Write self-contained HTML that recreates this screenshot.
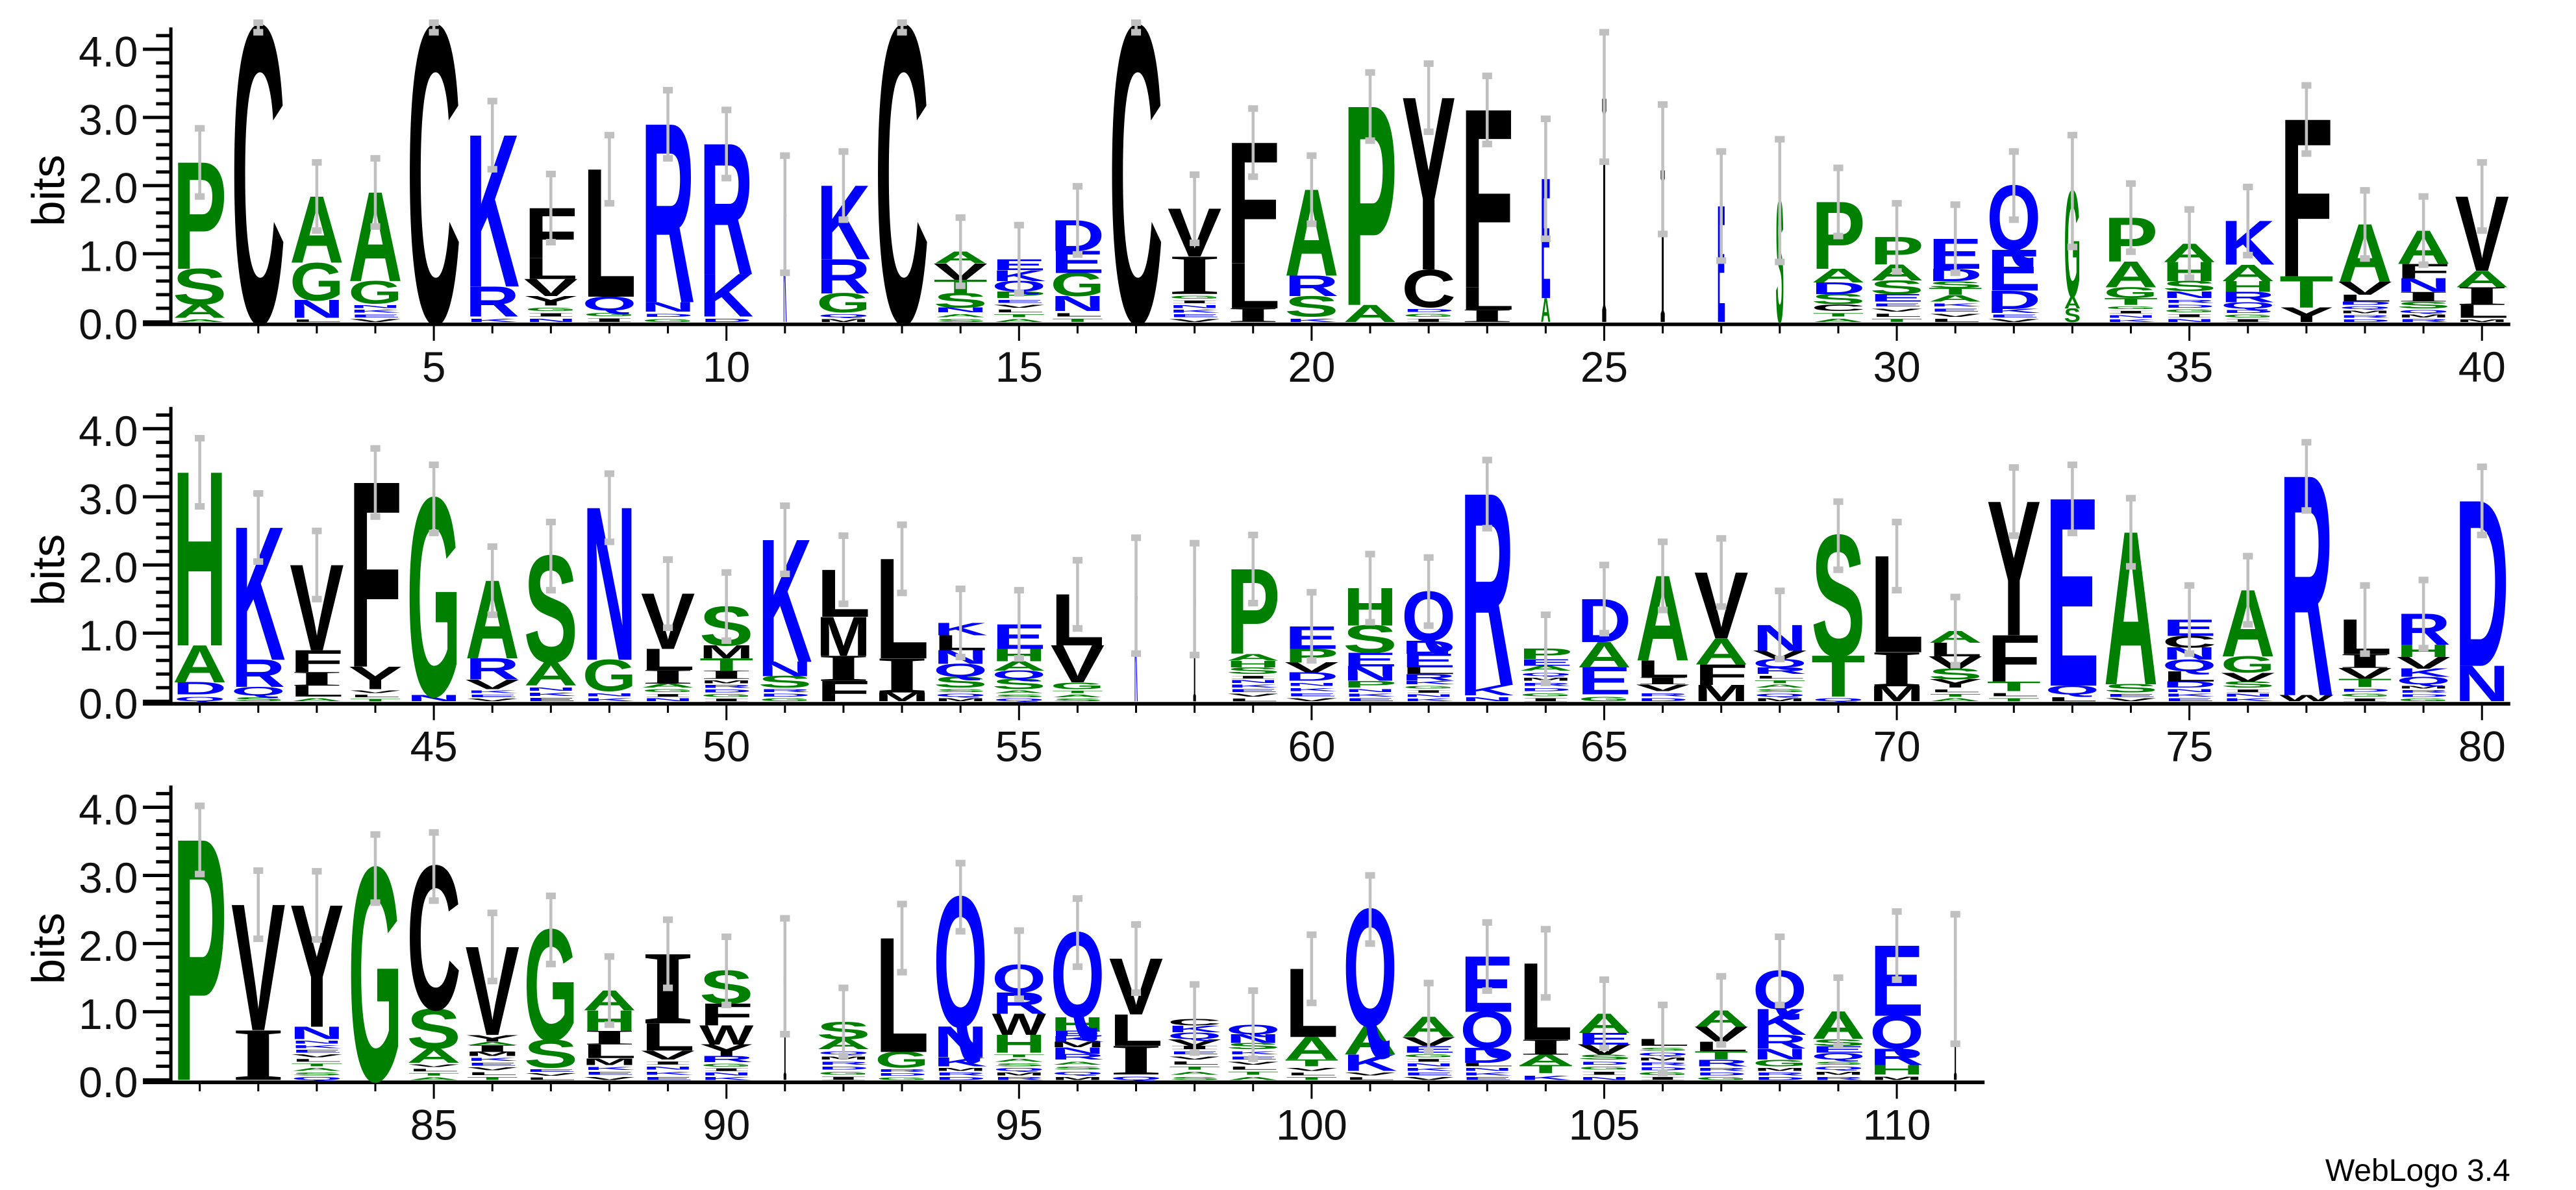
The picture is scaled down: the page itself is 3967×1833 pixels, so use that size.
<!DOCTYPE html>
<html><head><meta charset="utf-8">
<style>
html,body{margin:0;padding:0;background:#fff;}
svg{display:block;}
text{font-family:"Liberation Sans",Arial,sans-serif;}
</style></head>
<body>
<svg id="s" xmlns="http://www.w3.org/2000/svg" width="3967" height="1833" viewBox="0 0 1568 724.55" preserveAspectRatio="none">
<rect width="1568" height="724.55" fill="#fff"/>
<g id="logo"></g>
<g font-size="26" fill="#111" text-anchor="end">
<text x="84" y="206.5">0.0</text><text x="84" y="165">1.0</text><text x="84" y="123.5">2.0</text><text x="84" y="82">3.0</text><text x="84" y="40.5">4.0</text>
<text x="84" y="437.5">0.0</text><text x="84" y="396">1.0</text><text x="84" y="354.5">2.0</text><text x="84" y="313">3.0</text><text x="84" y="271.5">4.0</text>
<text x="84" y="668">0.0</text><text x="84" y="626.5">1.0</text><text x="84" y="585">2.0</text><text x="84" y="543.5">3.0</text><text x="84" y="502">4.0</text>
</g>
<g font-size="26" fill="#111" text-anchor="middle">
<text x="264.1" y="232.5">5</text><text x="442.2" y="232.5">10</text><text x="620.3" y="232.5">15</text><text x="798.4" y="232.5">20</text><text x="976.5" y="232.5">25</text><text x="1154.6" y="232.5">30</text><text x="1332.7" y="232.5">35</text><text x="1510.8" y="232.5">40</text>
<text x="264.1" y="463.5">45</text><text x="442.2" y="463.5">50</text><text x="620.3" y="463.5">55</text><text x="798.4" y="463.5">60</text><text x="976.5" y="463.5">65</text><text x="1154.6" y="463.5">70</text><text x="1332.7" y="463.5">75</text><text x="1510.8" y="463.5">80</text>
<text x="264.1" y="694">85</text><text x="442.2" y="694">90</text><text x="620.3" y="694">95</text><text x="798.4" y="694">100</text><text x="976.5" y="694">105</text><text x="1154.6" y="694">110</text>
</g>
<g font-size="28" fill="#000" text-anchor="middle">
<text transform="translate(39,116) rotate(-90)">bits</text>
<text transform="translate(39,347) rotate(-90)">bits</text>
<text transform="translate(39,577.5) rotate(-90)">bits</text>
</g>
<text x="1528" y="719" font-size="19" text-anchor="end" fill="#000">WebLogo 3.4</text>
</svg>
<script>
(function(){
var D=[
"*.06 A.2 S.52 P1.56","C4.32 e.07","*.06 N.26 G.55 A.97","*.27 G.33 A1.3","C4.32 e.07",
"*.08 R.44 K2.22","*.24 Y.14 V.25 L.31 F.73","*.17 Q.2 L1.87","*.15 N.14 R2.61","*.08 K.62 R1.91",
"w1.5 e.86 K1.58","*.14 G.28 R.5 K1.08","C4.32 e.07","*.14 N.07 S.21 T.2 V.24 A.17","*.35 P.1 Q.15 K.16 E.16",
"*.16 N.22 G.34 E.32 D.45","C4.32 e.07","*.41 I.55 V.7","I.2 L.66 F1.77","*.08 S.3 R.3 A1.26",
"A.25 P2.91","*.22 C.55 Y2.52","I.18 L.33 F2.6","w6 e.88 A.35 E1.75","w3 e.95 I3.3",
"w3 e.95 I2.24","w5 e.8 E1.7","w5 e.9 S1.78","*.16 C.1 S.15 D.17 A.2 P.98","*.3 E.11 S.2 A.23 P.4",
"*.3 A.1 T.1 S.1 D.18 E.44","*.13 K.06 D.27 E.6 Q.94","w10 e.82 S.2 A.17 G1.55","*.25 T.1 G.16 A.38 P.64","*.35 N.1 S.15 H.28 A.27",
"*.2 Q.09 R.15 H.16 A.24 K.64","Y.21 T.46 F2.3","*.25 D.05 L.1 V.19 A.84","*.2 S.1 I.14 N.2 F.21 A.49","*.06 L.19 I.26 A.24 V1.09",
"*.1 D.18 A.54 H2.54","*.09 Q.12 R.4 K1.94","*.07 L.16 I.2 F.32 V1.25","*.18 Y.33 F2.7","N.09 G2.88",
"*.18 V.14 R.31 A1.14","*.23 A.35 S1.55","*.15 G.46 N2.23","*.2 A.06 I.2 L.31 V.81","*.33 I.12 T.18 M.19 S.57",
"*.2 S.17 N.21 K1.79","F.3 I.37 M.57 L.69","M.13 I.5 L1.46","*.2 S.16 Q.19 N.2 L.22 K.18","*.18 S.15 Q.12 A.14 H.18 E.36",
"*.18 G.1 V.54 L.75","w1.5 e.85 K1.55","w1.5 e.82 I1.5","*.4 S.1 H.1 A.1 P1.24","*.3 D.12 V.15 P.2 E.33",
"*.2 P.1 N.21 E.2 S.4 H.55","*.25 K.05 R.1 L.1 E.2 D.19 Q.72","*.09 K.15 R2.8","*.45 A.07 E.1 P.15","*.1 E.4 A.37 D.63",
"*.15 V.1 I.1 L.25 A1.24","M.24 F.3 A.38 V.97","*.4 R.1 Q.12 V.12 N.38","*.07 T.6 S1.76","M.22 I.5 L1.41",
"*.2 Y.12 S.16 V.18 L.2 A.17","*.15 T.14 F.68 Y1.96","*.1 Q.13 E2.74","*.13 S.12 A2.23","*.2 D.09 L.15 Q.17 N.18 C.17 E.24",
"*.2 S.09 V.13 G.24 A.97","W.09 R3.21","*.21 T.12 V.16 I.2 L.51","*.25 Q.11 K.12 V.17 H.18 R.45","N.52 D2.42",
"P3.52","I.73 V1.84","*.6 N.18 Y1.78","G3.1","*.25 A.21 S.58 C2.09",
"*.35 M.06 I.1 A.05 Y.1 V1.29","*.18 S.4 G1.62","*.22 M.1 L.2 I.2 H.3 A.29","*.3 V.13 L.4 I1.02","*.26 R.09 Y.17 W.28 F.32 S.48",
"w1.5 e.85 I1.52","*.45 A.15 S.25","*.18 G.23 L1.67","*.2 K.13 N.45 Q1.9","*.4 H.26 W.31 R.31 Q.41",
"*.3 R.08 N.1 M.08 K.08 E.08 H.2 Q1.24","*.08 I.42 L.46 V.82","*.45 I.05 V.1 Q.1 K.1 C.1","*.45 S.09 N.13 Q.14","*.2 T.1 A.33 L1.0",
"*.13 K.24 A.42 Q1.71","*.4 E.1 V.13 A.29","*.2 L.05 D.22 Q.53 E.81","*.1 T.12 A.15 I.22 L1.12","*.3 S.07 V.15 E.17 A.28",
"*.5 L.1","*.2 R.1 T.12 L.14 V.22 A.24","*.2 G.1 N.16 R.2 K.38 Q.56","*.3 Q.1 E.1 S.1 A.4","*.08 H.14 R.24 Q.48 E1.03",
"w1.5 e.95 I1.48"
];
var NS="http://www.w3.org/2000/svg";
var g=document.getElementById("logo");
var B=41.5, DX=35.62, CAP=69;
function col(c){ if("APGSTH".indexOf(c)>=0) return "#008000"; if("KRDENQ".indexOf(c)>=0) return "#0000ff"; return "#000000"; }
function el(n,a){var e=document.createElementNS(NS,n);for(var k in a)e.setAttribute(k,a[k]);g.appendChild(e);return e;}
function letter(c,cx,yb,w,h){
  if(h<=0.002) return;
  var a={x:0,y:0,"font-size":100,"font-weight":"bold",fill:col(c),
    textLength:100,lengthAdjust:"spacingAndGlyphs",
    transform:"translate("+(cx-w/2)+","+yb+") scale("+(w/100)+","+(h/(c=="I"?66:CAP))+")"};
  if(c=="I") a["style"]='font-family:"Liberation Serif",serif';
  var t=el("text",a);
  t.textContent=c;
}
var FL="SATLVEKNIGDRMQ";
var rows=[{y0:196,s:1,n:40,end:1528},{y0:427,s:41,n:40,end:1528},{y0:657.5,s:81,n:31,end:1208}];
rows.forEach(function(r){
  var ax=r.y0+1.5;
  el("line",{x1:87,y1:ax,x2:r.end,y2:ax,stroke:"#000","stroke-width":2.2});
  el("line",{x1:104,y1:ax+1,x2:104,y2:r.y0-4.32*B,stroke:"#000","stroke-width":2});
  for(var i=0;i<=21;i++){var v=i*0.2,y=r.y0-v*B;var maj=(i%5==0);
    el("line",{x1:maj?87:95,y1:y,x2:104,y2:y,stroke:"#000","stroke-width":2});}
  for(var j=0;j<r.n;j++){
    var p=r.s+j,cx=121.6+j*DX,maj=(p%5==0);
    el("line",{x1:cx,y1:ax,x2:cx,y2:ax+(maj?10:5.5),stroke:"#000","stroke-width":1.2});
    var spec=D[p-1]; if(!spec) continue;
    var toks=spec.split(" "),w=33,e=0.5,y=r.y0,tot=0,fi=p%FL.length;
    toks.forEach(function(t){
      var c=t[0],v=parseFloat(t.slice(1));
      if(c=="w"){w=Math.max(v,2);return;} if(c=="e"){e=v;return;}
      if(c=="*"){
        var n=Math.max(1,Math.round(v/0.07)),hh=v*B/n;
        for(var k=0;k<n;k++){var L=FL[(fi++)%FL.length];letter(L,cx,y,w*0.95,hh*0.6);y-=hh;}
        tot+=v; return;
      }
      letter(c,cx,y,w,v*B); y-=v*B; tot+=v;
    });
    var yt=r.y0-(tot+e)*B, ybt=r.y0-(tot-e)*B;
    el("line",{x1:cx,y1:yt,x2:cx,y2:ybt,stroke:"#c0c0c0","stroke-width":1.8});
    el("rect",{x:cx-3,y:yt-2,width:6,height:4,fill:"#c0c0c0"});
    el("rect",{x:cx-3,y:ybt-2,width:6,height:4,fill:"#c0c0c0"});
  }
});
})();
</script>
</body></html>
